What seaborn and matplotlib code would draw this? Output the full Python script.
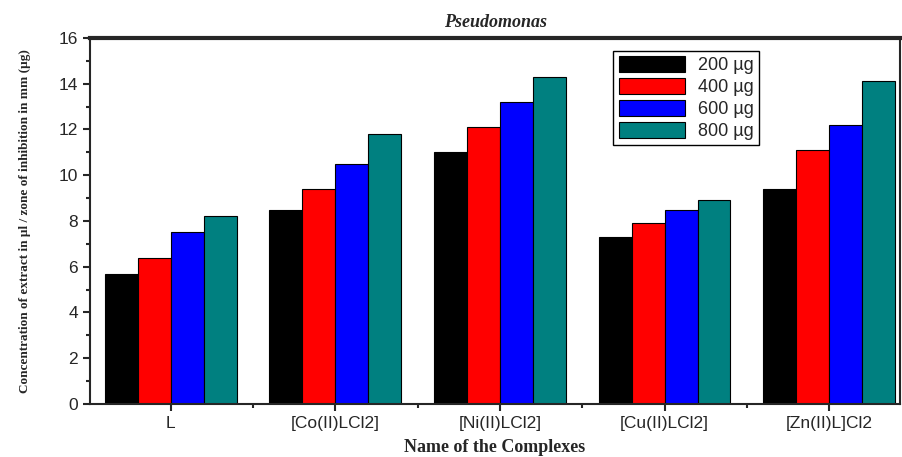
import matplotlib.pyplot as plt
import seaborn as sns
import pandas as pd
from matplotlib.ticker import MultipleLocator

# data
complexes = ['L', '[Co(II)LCl2]', '[Ni(II)LCl2]', '[Cu(II)LCl2]', '[Zn(II)L]Cl2']
doses = ['200 µg', '400 µg', '600 µg', '800 µg']
v200 = [5.7, 8.5, 11.0, 7.3, 9.4]
v400 = [6.4, 9.4, 12.1, 7.9, 11.1]
v600 = [7.5, 10.5, 13.2, 8.5, 12.2]
v800 = [8.2, 11.8, 14.3, 8.9, 14.1]

rows = []
for dose, vals in zip(doses, [v200, v400, v600, v800]):
    for c, v in zip(complexes, vals):
        rows.append({'Complex': c, 'Dose': dose, 'Value': v})
df = pd.DataFrame(rows)

sns.set_style("ticks")
fig = plt.figure(figsize=(9.02, 4.57), dpi=100)
ax = fig.add_axes([0.0998, 0.116, 0.898, 0.801])

palette = {'200 µg': '#000000', '400 µg': '#ff0000', '600 µg': '#0000ff', '800 µg': '#008080'}
sns.barplot(data=df, x='Complex', y='Value', hue='Dose', palette=palette,
            edgecolor='black', linewidth=0.8, width=0.8, saturation=1, ax=ax)

ax.set_xlim(-0.49, 4.43)
ax.set_ylim(0, 16)
ax.yaxis.set_major_locator(MultipleLocator(2))
ax.yaxis.set_minor_locator(MultipleLocator(1))
ax.set_xticks(range(5))
ax.set_xticks([0.5, 1.5, 2.5, 3.5], minor=True)
ax.tick_params(axis='both', which='major', direction='out', length=5, width=1.5,
               labelsize=12.5)
ax.tick_params(axis='both', which='minor', direction='out', length=3, width=1.5)
for lab in ax.get_xticklabels() + ax.get_yticklabels():
    lab.set_fontfamily('Liberation Sans')

for side in ['left', 'bottom', 'right']:
    ax.spines[side].set_linewidth(1.5)
ax.spines['top'].set_linewidth(3)

ax.set_title('Pseudomonas', fontfamily='Liberation Serif', fontweight='bold',
             fontstyle='italic', fontsize=13, pad=8)
ax.set_xlabel('Name of the Complexes', fontfamily='Liberation Serif',
              fontweight='bold', fontsize=13, labelpad=6)
ax.set_ylabel('Concentration of extract in µl / zone of inhibition in mm (µg)',
              fontfamily='Liberation Serif', fontweight='bold', fontsize=9.5,
              labelpad=20)

leg = ax.legend(loc='upper left', bbox_to_anchor=(0.646, 0.965), frameon=True,
                fancybox=False, edgecolor='black', framealpha=1,
                prop={'family': 'Liberation Sans', 'size': 13},
                handlelength=3.7, handleheight=1.0, labelspacing=0.2,
                borderpad=0.3, handletextpad=0.7, borderaxespad=0)
leg.get_frame().set_linewidth(1)

fig.savefig('out.png', dpi=100)
